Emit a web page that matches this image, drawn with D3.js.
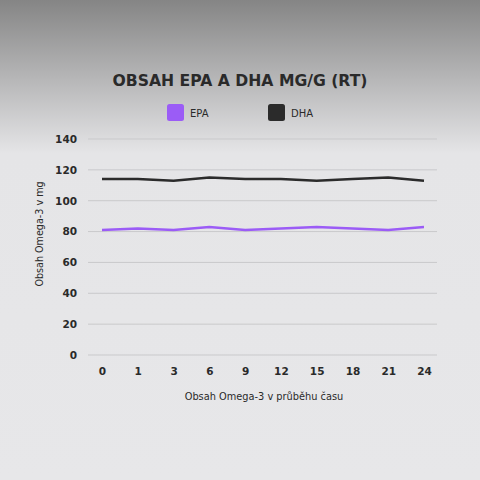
<!DOCTYPE html>
<html>
<head>
<meta charset="utf-8">
<title>Obsah EPA a DHA</title>
<script src="https://cdn.jsdelivr.net/npm/d3@7"></script>
<style>
body { margin: 0; }
text { font-family: "DejaVu Sans", sans-serif; fill: #2a2a2a; }
.grid line { stroke: #c9c9cb; stroke-width: 1; }
.tick text { font-weight: bold; font-size: 10.5px; }
</style>
</head>
<body>
<script>
var hours = ["0", "1", "3", "6", "9", "12", "15", "18", "21", "24"];
var epa = [81, 82, 81, 83, 81, 82, 83, 82, 81, 83];
var dha = [114, 114, 113, 115, 114, 114, 113, 114, 115, 113];
var yTicks = [0, 20, 40, 60, 80, 100, 120, 140];

var width = 480, height = 480;
var plotLeft = 88, plotRight = 437, plotTop = 139, plotBottom = 355;

var svg = d3.select("body").append("svg")
  .attr("width", width)
  .attr("height", height);

var grad = svg.append("defs").append("linearGradient")
  .attr("id", "bg").attr("x1", 0).attr("y1", 0).attr("x2", 0).attr("y2", 1);
grad.append("stop").attr("offset", "0").attr("stop-color", "#858585");
grad.append("stop").attr("offset", "0.32").attr("stop-color", "#e5e5e7");
grad.append("stop").attr("offset", "1").attr("stop-color", "#e7e7e9");

svg.append("rect").attr("width", width).attr("height", height).attr("fill", "url(#bg)");

var x = d3.scalePoint().domain(hours).range([102, 424]);
var y = d3.scaleLinear().domain([0, 140]).range([plotBottom, plotTop]);

// gridlines
svg.append("g").attr("class", "grid")
  .selectAll("line").data(yTicks).enter().append("line")
  .attr("x1", plotLeft).attr("x2", plotRight)
  .attr("y1", function(d) { return y(d); })
  .attr("y2", function(d) { return y(d); });

// y axis
var yAxis = svg.append("g")
  .attr("transform", "translate(" + (plotLeft - 11) + ",0)")
  .call(d3.axisLeft(y).tickValues(yTicks).tickSize(0).tickPadding(0));
yAxis.select(".domain").remove();

// x axis
var xAxis = svg.append("g")
  .attr("transform", "translate(0," + (plotBottom + 13) + ")")
  .call(d3.axisBottom(x).tickSize(0).tickPadding(0));
xAxis.select(".domain").remove();
xAxis.selectAll("text").attr("dy", "0.71em");

// lines
var line = d3.line()
  .x(function(d, i) { return x(hours[i]); })
  .y(function(d) { return y(d); });

svg.append("path").datum(dha)
  .attr("d", line).attr("fill", "none")
  .attr("stroke", "#2b2b2b").attr("stroke-width", 2.5);
svg.append("path").datum(epa)
  .attr("d", line).attr("fill", "none")
  .attr("stroke", "#9b5cf6").attr("stroke-width", 2.5);

// title
svg.append("text")
  .attr("x", 240).attr("y", 86)
  .attr("text-anchor", "middle")
  .attr("font-size", 16.5)
  .attr("font-weight", "bold")
  .attr("textLength", 255)
  .attr("lengthAdjust", "spacingAndGlyphs")
  .text("OBSAH EPA A DHA MG/G (RT)");

// legend
var legend = [
  {name: "EPA", color: "#9b5cf6", x: 167},
  {name: "DHA", color: "#2b2b2b", x: 268}
];
var lg = svg.selectAll(".legend").data(legend).enter().append("g")
  .attr("transform", function(d) { return "translate(" + d.x + ",104)"; });
lg.append("rect").attr("width", 17).attr("height", 17).attr("rx", 2.5)
  .attr("fill", function(d) { return d.color; });
lg.append("text").attr("x", 23).attr("y", 12.5)
  .attr("font-size", 10)
  .text(function(d) { return d.name; });

// axis titles
svg.append("text")
  .attr("x", 264).attr("y", 400)
  .attr("text-anchor", "middle")
  .attr("font-size", 9.8)
  .text("Obsah Omega-3 v průběhu času");

svg.append("text")
  .attr("transform", "translate(43,234) rotate(-90)")
  .attr("text-anchor", "middle")
  .attr("font-size", 9.6)
  .attr("fill", "#444")
  .text("Obsah Omega-3 v mg");
</script>
</body>
</html>
